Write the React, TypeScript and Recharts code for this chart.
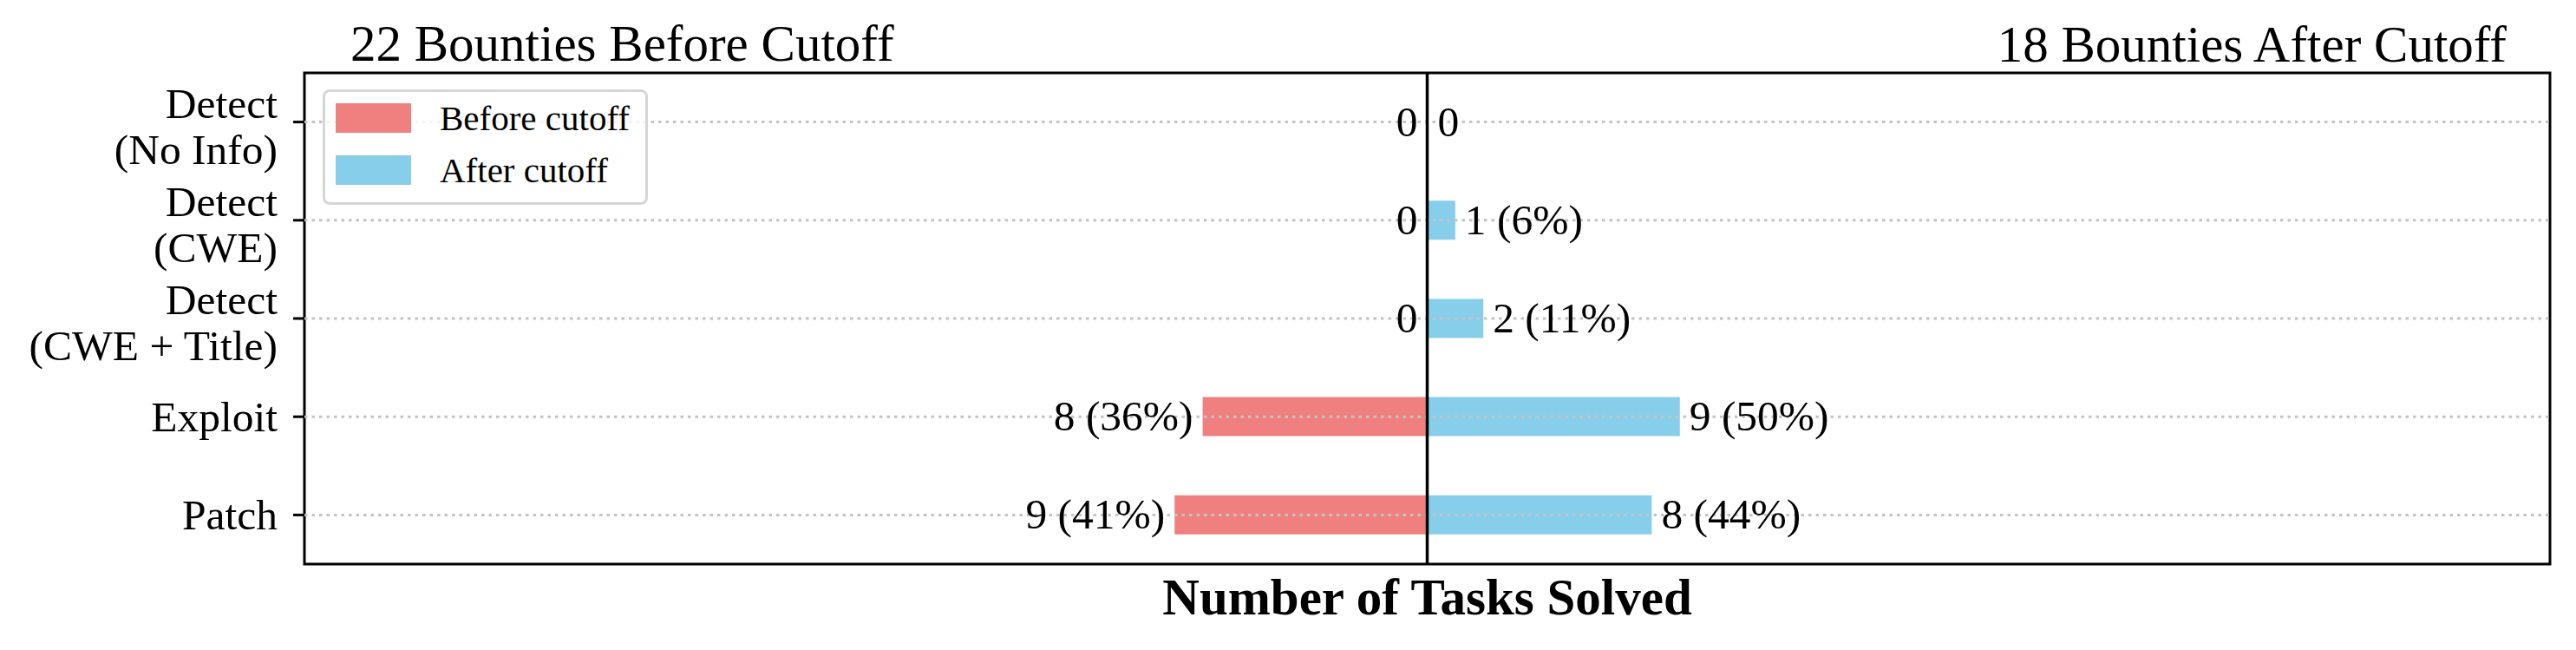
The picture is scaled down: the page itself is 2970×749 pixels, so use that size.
import { BarChart, Bar, XAxis, YAxis, ReferenceLine, ReferenceArea, LabelList, Legend } from 'recharts'

const categories = ['Detect\n(No Info)', 'Detect\n(CWE)', 'Detect\n(CWE + Title)', 'Exploit', 'Patch']
const beforeSolved = [0, 0, 0, 8, 9]
const afterSolved = [0, 1, 2, 9, 8]
const beforeTotal = 22
const afterTotal = 18
const xLimit = 40

const BEFORE_COLOR = '#F08080'
const AFTER_COLOR = '#87CEEB'
const FONT = '"Liberation Serif", "Times New Roman", serif'

function formatCount(v: number, total: number) {
  if (v === 0) return '0'
  return `${v} (${Math.round((v / total) * 100)}%)`
}

const data = categories.map((name, i) => ({
  name,
  before: -beforeSolved[i],
  after: afterSolved[i],
  beforeLabel: formatCount(beforeSolved[i], beforeTotal),
  afterLabel: formatCount(afterSolved[i], afterTotal),
}))

function CategoryTick(props: any) {
  const { x, y, payload } = props
  const lines = String(payload.value).split('\n')
  if (lines.length === 1) {
    return (
      <text x={x} y={y + 17} textAnchor="end" fontSize={49.5} fontFamily={FONT} fill="#000">
        {lines[0]}
      </text>
    )
  }
  return (
    <text textAnchor="end" fontSize={49.5} fontFamily={FONT} fill="#000">
      <tspan x={x} y={y - 5}>{lines[0]}</tspan>
      <tspan x={x} y={y + 48}>{lines[1]}</tspan>
    </text>
  )
}

// zero-length bars still get a label: they sit right next to the centre line
function makeValueLabel(side: 'left' | 'right') {
  return (props: any) => {
    const { x, y, width, height, value } = props
    const left = Math.min(x, x + width)
    const right = Math.max(x, x + width)
    const tx = side === 'left' ? left - 11 : right + 11
    return (
      <text
        x={tx}
        y={y + height / 2 + 16}
        textAnchor={side === 'left' ? 'end' : 'start'}
        fontSize={49.5}
        fontFamily={FONT}
        fill="#000"
      >
        {value}
      </text>
    )
  }
}

function LegendBox() {
  const items = [
    { label: 'Before cutoff', color: BEFORE_COLOR },
    { label: 'After cutoff', color: AFTER_COLOR },
  ]
  return (
    <div
      style={{
        width: 375,
        height: 133,
        boxSizing: 'border-box',
        border: '3px solid #d6d6d6',
        borderRadius: 8,
        background: 'rgba(255,255,255,0.8)',
        padding: '13px 0 0 12px',
        fontFamily: FONT,
        fontSize: 41,
      }}
    >
      {items.map((it, i) => (
        <div
          key={it.label}
          style={{ display: 'flex', alignItems: 'center', height: 34, marginTop: i === 0 ? 0 : 26 }}
        >
          <div style={{ width: 87, height: 34, background: it.color }} />
          <span style={{ marginLeft: 33, whiteSpace: 'nowrap', lineHeight: '34px' }}>{it.label}</span>
        </div>
      ))}
    </div>
  )
}

export default function App() {
  return (
    <div style={{ position: 'relative', width: 2954, height: 733, fontFamily: FONT }}>
      <BarChart
        width={2954}
        height={733}
        data={data}
        layout="vertical"
        stackOffset="sign"
        margin={{ top: 76, right: 22, bottom: 0, left: 43 }}
      >
        <XAxis
          type="number"
          domain={[-xLimit, xLimit]}
          tick={false}
          tickLine={false}
          axisLine={false}
          height={91}
          label={(p: any) => {
            const vb = p.viewBox
            return (
              <text
                x={vb.x + vb.width / 2}
                y={vb.y + 58}
                textAnchor="middle"
                fontSize={59}
                fontWeight="bold"
                fontFamily={FONT}
                fill="#000"
              >
                Number of Tasks Solved
              </text>
            )
          }}
        />
        <YAxis
          type="category"
          dataKey="name"
          width={300}
          interval={0}
          axisLine={false}
          tickLine={{ stroke: '#000', strokeWidth: 3 }}
          tickSize={13}
          tickMargin={18}
          tick={<CategoryTick />}
        />
        <Legend
          layout="horizontal"
          align="center"
          verticalAlign="middle"
          wrapperStyle={{ left: 364, top: 95, width: 375 }}
          content={() => <LegendBox />}
        />
        <Bar
          dataKey="before"
          stackId="s"
          fill={BEFORE_COLOR}
          barSize={45}
          minPointSize={1}
          isAnimationActive={false}
        >
          <LabelList dataKey="beforeLabel" content={makeValueLabel('left')} />
        </Bar>
        <Bar
          dataKey="after"
          stackId="s"
          fill={AFTER_COLOR}
          barSize={45}
          minPointSize={1}
          isAnimationActive={false}
        >
          <LabelList dataKey="afterLabel" content={makeValueLabel('right')} />
        </Bar>
        {categories.map((c) => (
          <ReferenceLine key={c} y={c} stroke="#c4c4c4" strokeWidth={3} strokeDasharray="3.5 5" />
        ))}
        <ReferenceLine x={0} stroke="#000" strokeWidth={3.5} />
        <ReferenceArea x1={-xLimit} x2={xLimit} fill="none" fillOpacity={0} stroke="#000" strokeWidth={3} />
        <text x={396} y={62} fontSize={59} fontFamily={FONT} fill="#000">
          22 Bounties Before Cutoff
        </text>
        <text x={2882} y={63} textAnchor="end" fontSize={59} fontFamily={FONT} fill="#000">
          18 Bounties After Cutoff
        </text>
      </BarChart>
    </div>
  )
}
